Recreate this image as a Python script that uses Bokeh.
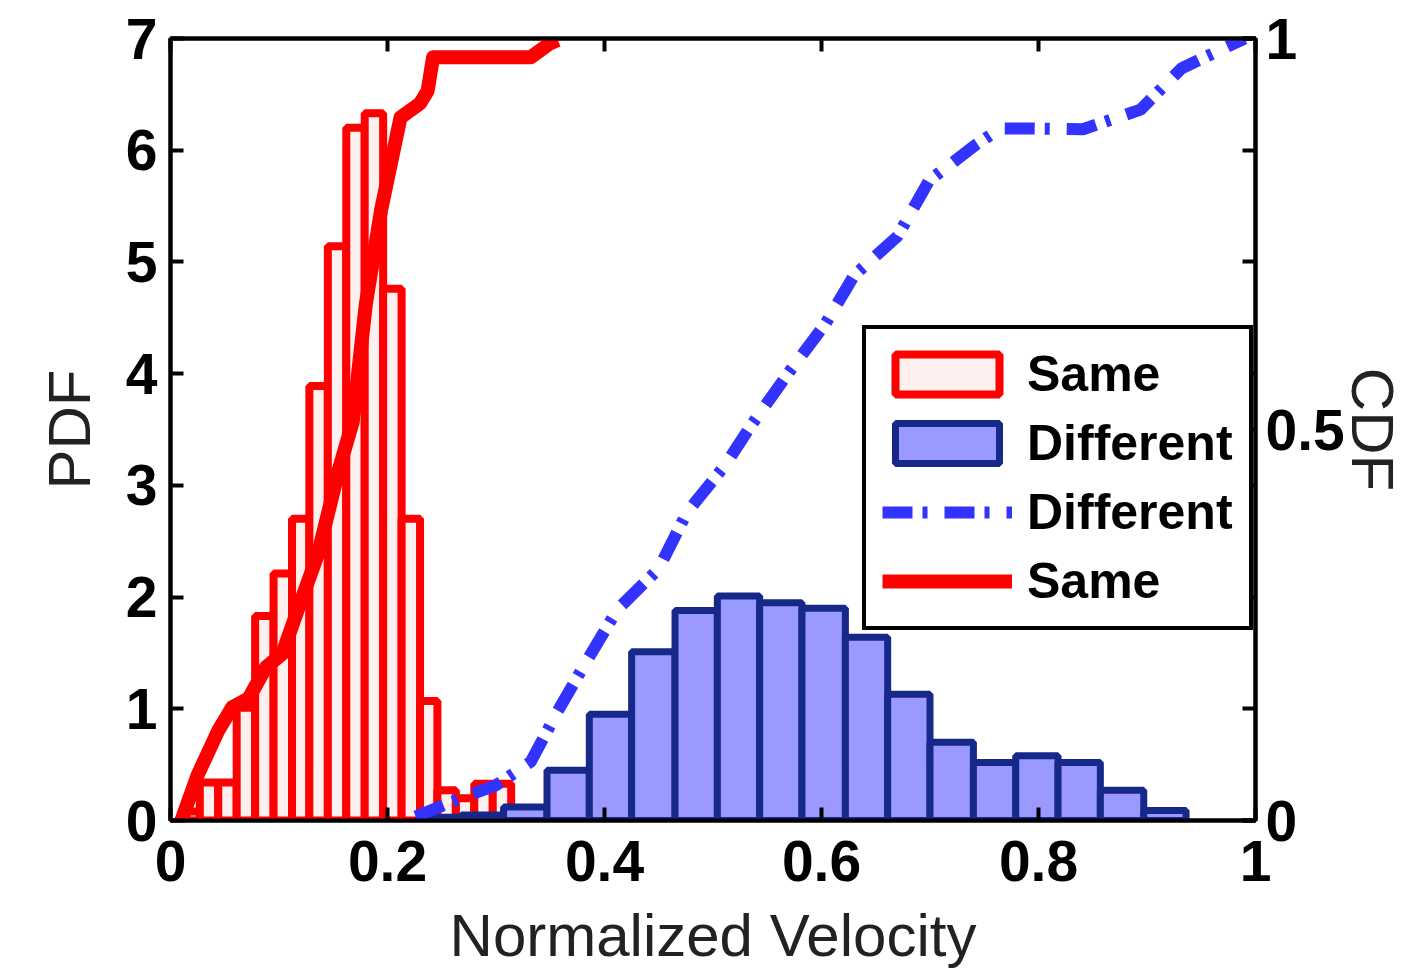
from bokeh.plotting import figure
from bokeh.models import Range1d, LinearAxis, FixedTicker, Legend, LegendItem
from bokeh.embed import file_html
from bokeh.resources import INLINE

# ---------------- data ----------------
same_edges = [0.010, 0.027, 0.044, 0.061, 0.078, 0.095, 0.112, 0.128, 0.145, 0.162,
              0.179, 0.196, 0.213, 0.230, 0.246, 0.263, 0.280, 0.297, 0.314, 0.331, 0.348]
same_pdf = [0.08, 0.34, 0.34, 1.01, 1.83, 2.21, 2.70, 3.89, 5.14, 6.20,
            6.33, 4.76, 2.70, 1.07, 0.27, 0.20, 0.33, 0.33, 0.0, 0.05]

diff_edges = [0.229, 0.268, 0.307, 0.347, 0.386, 0.425, 0.465, 0.504, 0.543, 0.582,
              0.622, 0.661, 0.700, 0.740, 0.779, 0.818, 0.857, 0.897, 0.936]
diff_pdf = [0.03, 0.05, 0.12, 0.45, 0.95, 1.51, 1.88, 2.01, 1.95, 1.90,
            1.64, 1.13, 0.70, 0.52, 0.58, 0.52, 0.27, 0.09]

same_cdf_x = [0.010, 0.025, 0.044, 0.057, 0.072, 0.088, 0.103, 0.118, 0.136, 0.155,
              0.168, 0.180, 0.194, 0.212, 0.230, 0.237, 0.242, 0.332, 0.350, 0.357]
same_cdf_y = [0.0, 0.058, 0.115, 0.145, 0.156, 0.196, 0.213, 0.272, 0.341, 0.448,
              0.51, 0.66, 0.78, 0.899, 0.917, 0.933, 0.976, 0.976, 0.994, 0.998]

diff_cdf_x = [0.226, 0.270, 0.300, 0.332, 0.357, 0.384, 0.412, 0.450, 0.476, 0.511,
              0.535, 0.571, 0.604, 0.630, 0.670, 0.699, 0.741, 0.765, 0.792, 0.841,
              0.894, 0.932, 0.990]
diff_cdf_y = [0.005, 0.030, 0.045, 0.075, 0.140, 0.205, 0.270, 0.322, 0.394, 0.454,
              0.505, 0.575, 0.636, 0.697, 0.747, 0.818, 0.863, 0.885, 0.885, 0.884,
              0.909, 0.962, 1.0]

x_ticks = [0, 0.2, 0.4, 0.6, 0.8, 1]
x_tick_labels = ["0", "0.2", "0.4", "0.6", "0.8", "1"]
pdf_ticks = [0, 1, 2, 3, 4, 5, 6, 7]
cdf_ticks = [0, 0.5, 1]
cdf_tick_labels = ["0", "0.5", "1"]

# ---------------- styling ----------------
FONT = "Liberation Sans"
RED = "#ff0000"
BLUE_LINE = "#3333ff"
BLUE_FILL = "#9999ff"
BLUE_EDGE = "#16288a"

p = figure(width=1409, height=974, output_backend="svg", toolbar_location=None,
           x_range=Range1d(0, 1), y_range=Range1d(0, 7),
           min_border_left=170, min_border_right=154, min_border_top=38,
           min_border_bottom=154, background_fill_color="white",
           border_fill_color="white")
p.extra_y_ranges = {"cdf": Range1d(0, 1)}
p.xgrid.visible = False
p.ygrid.visible = False
p.outline_line_color = "black"
p.outline_line_width = 4
p.outline_line_alpha = 1.0


def style_axis(ax):
    ax.axis_line_width = 4
    ax.axis_line_color = "black"
    ax.major_tick_in = 13
    ax.major_tick_out = 0
    ax.major_tick_line_width = 4
    ax.major_tick_line_color = "black"
    ax.minor_tick_in = 13
    ax.minor_tick_out = 0
    ax.minor_tick_line_width = 4
    ax.minor_tick_line_color = "black"
    ax.major_label_text_font = FONT
    ax.major_label_text_font_style = "bold"
    ax.major_label_text_font_size = "57px"
    ax.major_label_text_color = "black"
    ax.axis_label_text_font = FONT
    ax.axis_label_text_font_style = "normal"
    ax.axis_label_text_font_size = "60px"
    ax.axis_label_text_color = "#222222"


# bottom axis
xa = p.xaxis[0]
xa.ticker = FixedTicker(ticks=x_ticks, minor_ticks=[])
xa.major_label_overrides = dict(zip(x_ticks, x_tick_labels))
xa.axis_label = "Normalized Velocity"
style_axis(xa)
xa.major_label_standoff = 20
xa.axis_label_standoff = 18

# left axis
ya = p.yaxis[0]
ya.ticker = FixedTicker(ticks=pdf_ticks, minor_ticks=[])
ya.axis_label = "PDF"
style_axis(ya)
ya.major_label_standoff = 13
ya.axis_label_standoff = 20

# top mirror axis (tick marks only, drawn as minor ticks so no labels exist)
top = LinearAxis(ticker=FixedTicker(ticks=[], minor_ticks=x_ticks))
style_axis(top)
p.add_layout(top, "above")

# right axis: CDF labels, with the PDF ticks mirrored as unlabeled minor ticks
right = LinearAxis(y_range_name="cdf",
                   ticker=FixedTicker(ticks=cdf_ticks,
                                      minor_ticks=[t / 7 for t in pdf_ticks]))
style_axis(right)
right.major_label_overrides = dict(zip(cdf_ticks, cdf_tick_labels))
right.major_label_standoff = 10
right.axis_label = "CDF"
right.axis_label_standoff = -9
p.add_layout(right, "right")

# ---------------- glyphs ----------------
r_same_bar = p.quad(left=same_edges[:-1], right=same_edges[1:], top=same_pdf, bottom=0,
                    fill_color="#fff0f0", line_color=RED, line_width=8)
r_diff_bar = p.quad(left=diff_edges[:-1], right=diff_edges[1:], top=diff_pdf, bottom=0,
                    fill_color=BLUE_FILL, line_color=BLUE_EDGE, line_width=7)
r_diff_cdf = p.line(diff_cdf_x, diff_cdf_y, y_range_name="cdf", line_color=BLUE_LINE,
                    line_width=12, line_dash="30 10 5 17", line_cap="butt")
r_same_cdf = p.line(same_cdf_x, same_cdf_y, y_range_name="cdf", line_color=RED,
                    line_width=14, line_join="round")

legend = Legend(items=[
    LegendItem(label="Same", renderers=[r_same_bar]),
    LegendItem(label="Different", renderers=[r_diff_bar]),
    LegendItem(label="Different", renderers=[r_diff_cdf]),
    LegendItem(label="Same", renderers=[r_same_cdf]),
], location=(692, 190))
legend.label_text_font = FONT
legend.label_text_font_style = "bold"
legend.label_text_font_size = "50px"
legend.label_text_color = "black"
legend.glyph_width = 130
legend.glyph_height = 50
legend.label_standoff = 15
legend.padding = 16
legend.spacing = 11
legend.margin = 0
legend.border_line_color = "black"
legend.border_line_width = 4
legend.border_line_alpha = 1.0
legend.background_fill_color = "white"
legend.background_fill_alpha = 1.0
p.add_layout(legend, "center")

open("out.html", "w").write(file_html(p, INLINE))
